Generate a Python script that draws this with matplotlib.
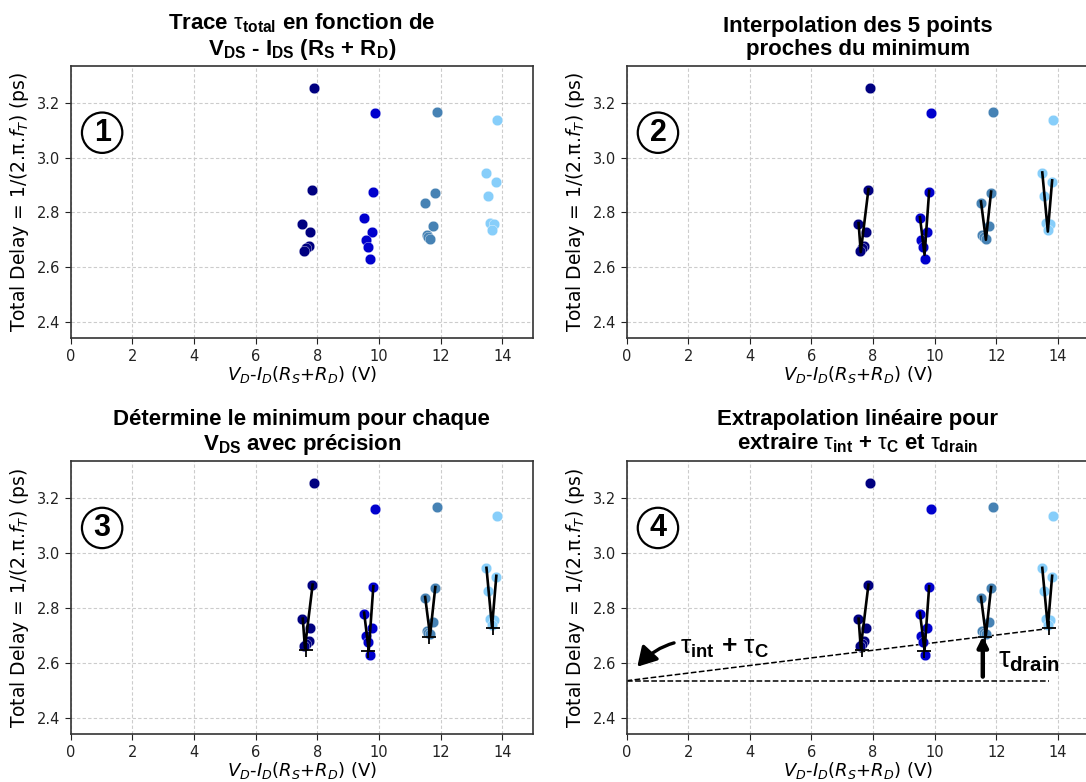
import matplotlib
matplotlib.use("Agg")
import matplotlib.pyplot as plt

# points: x = V_D - I_D(R_S+R_D) (V), y = total delay (ps)
x_navy = [7.91, 7.84, 7.52, 7.78, 7.72, 7.65, 7.58]
y_navy = [3.255, 2.882, 2.758, 2.727, 2.679, 2.670, 2.660]
x_blue = [9.87, 9.82, 9.51, 9.76, 9.57, 9.63, 9.70]
y_blue = [3.162, 2.876, 2.778, 2.727, 2.699, 2.675, 2.629]
x_steel = [11.88, 11.81, 11.49, 11.75, 11.55, 11.60, 11.65]
y_steel = [3.167, 2.871, 2.836, 2.750, 2.717, 2.710, 2.704]
x_sky = [13.84, 13.47, 13.79, 13.54, 13.62, 13.75, 13.68]
y_sky = [3.136, 2.944, 2.912, 2.860, 2.760, 2.757, 2.737]

# interpolation through the 5 points near the minimum
fit_x = [[7.53, 7.60, 7.85], [9.52, 9.67, 9.82], [11.50, 11.66, 11.83], [13.49, 13.67, 13.81]]
fit_y = [[2.761, 2.655, 2.885], [2.783, 2.645, 2.879], [2.840, 2.700, 2.876], [2.946, 2.730, 2.917]]

# minimum of each curve
min_x = [7.65, 9.66, 11.62, 13.70]
min_y = [2.647, 2.645, 2.696, 2.727]

# linear extrapolation to zero
ext_x = [0, 13.70]
ext_y = [2.535, 2.725]
base_y = 2.535

colors = ["#000080", "#0000CD", "#4682B4", "#87CEFA"]
xs = [x_navy, x_blue, x_steel, x_sky]
ys = [y_navy, y_blue, y_steel, y_sky]

plt.rcParams["mathtext.fontset"] = "dejavusans"
plt.rcParams["mathtext.rm"] = "Liberation Sans"
plt.rcParams["mathtext.it"] = "Liberation Sans"
plt.rcParams["mathtext.bf"] = "Liberation Sans:bold"

titles = [
    "Trace $\\tau_{\\mathbf{total}}$ en fonction de\nV$_{\\mathbf{DS}}$ - I$_{\\mathbf{DS}}$ (R$_{\\mathbf{S}}$ + R$_{\\mathbf{D}}$)",
    "Interpolation des 5 points\nproches du minimum",
    "Détermine le minimum pour chaque\nV$_{\\mathbf{DS}}$ avec précision",
    "Extrapolation linéaire pour\nextraire $\\tau_{\\mathbf{int}}$ + $\\tau_{\\mathbf{C}}$ et $\\tau_{\\mathbf{drain}}$",
]

fig = plt.figure(figsize=(10.86, 7.82), dpi=100)
boxes = [
    [0.0651, 0.5674, 0.4257, 0.3482],
    [0.5769, 0.5674, 0.4257, 0.3482],
    [0.0651, 0.0610, 0.4257, 0.3495],
    [0.5769, 0.0610, 0.4257, 0.3495],
]

for i, box in enumerate(boxes):
    ax = fig.add_axes(box)
    for x, y, c in zip(xs, ys, colors):
        ax.scatter(x, y, s=58, color=c, edgecolors="white", linewidths=0.25, zorder=3)
    if i >= 1:
        for fx, fy in zip(fit_x, fit_y):
            ax.plot(fx, fy, color="black", lw=1.9, zorder=4)
    if i >= 2:
        ax.plot(min_x, min_y, "k+", ms=10, mew=1.3, zorder=5)
    if i == 3:
        ax.plot(ext_x, ext_y, "k--", lw=1.1, zorder=2)
        ax.plot(ext_x, [base_y, base_y], "k--", lw=1.1, zorder=2)
        ax.annotate("$\\tau_{\\mathbf{int}}$ + $\\tau_{\\mathbf{C}}$", xy=(0.35, 2.586), xytext=(1.72, 2.655),
                    fontsize=19, fontweight="bold", family="Liberation Sans", math_fontfamily="custom",
                    ha="left", va="center",
                    arrowprops=dict(arrowstyle="-|>,head_length=0.6,head_width=0.35", color="black",
                                    lw=2.4, connectionstyle="arc3,rad=0.35", shrinkA=2, shrinkB=0))
        ax.annotate("", xy=(11.56, 2.697), xytext=(11.56, 2.55),
                    arrowprops=dict(arrowstyle="-|>,head_length=0.6,head_width=0.3", color="black",
                                    lw=3.2, shrinkA=0, shrinkB=0))
        ax.text(12.05, 2.61, "$\\tau_{\\mathbf{drain}}$", fontsize=21, family="Liberation Sans",
                math_fontfamily="custom", ha="left", va="center")

    ax.text(0.068, 0.755, str(i + 1), transform=ax.transAxes, fontsize=22, fontweight="bold",
            family="Liberation Sans", ha="center", va="center",
            bbox=dict(boxstyle="circle,pad=0.17", fc="white", ec="black", lw=1.6))

    ax.set_xlim(0, 15)
    ax.set_ylim(2.34, 3.335)
    ax.set_xticks([0, 2, 4, 6, 8, 10, 12, 14])
    ax.set_yticks([2.4, 2.6, 2.8, 3.0, 3.2])
    ax.grid(True, color="#cccccc", linestyle=(0, (3, 2)), lw=0.8, zorder=0)
    ax.tick_params(labelsize=10.5, colors="#222222", length=4)
    for s in ax.spines.values():
        s.set_color("#333333")
        s.set_linewidth(1.2)
    ax.set_xlabel("$V_D$-$I_D$($R_S$+$R_D$) (V)", fontsize=13, labelpad=0.5)
    ax.set_ylabel("Total Delay = 1/(2.π.$f_T$) (ps)", fontsize=13.5, labelpad=4)
    ax.set_title(titles[i], fontsize=16, fontweight="bold", family="Liberation Sans",
                 math_fontfamily="custom", pad=8, linespacing=1.1)

fig.savefig("out.png", dpi=100)
